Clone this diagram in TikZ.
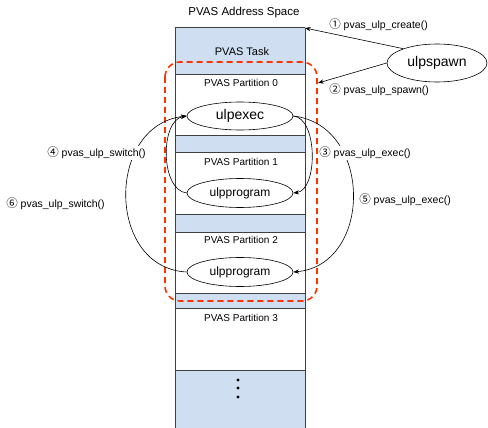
\documentclass[tikz,border=0pt]{standalone}
\usepackage{fontspec}
\setmainfont{Liberation Sans}
\newfontfamily\cjk{Noto Sans CJK JP}
\usetikzlibrary{shapes.geometric,arrows.meta}
\definecolor{bandblue}{RGB}{207,222,240}
\definecolor{dashred}{RGB}{255,51,0}
\definecolor{edgegray}{RGB}{64,64,64}
\tikzset{
  proc/.style={draw,ellipse,inner sep=0pt,minimum width=106pt,minimum height=29pt},
  call/.style={anchor=west,fill=white,inner sep=1pt,font=\fontsize{10.5}{12}\selectfont},
  ptitle/.style={font=\fontsize{10}{12}\selectfont},
}
\newcommand{\circnum}[1]{{\cjk\fontsize{11.5}{12}\selectfont #1}}
\begin{document}
\begin{tikzpicture}[>=Stealth,x=1pt,y=-1pt,font=\fontsize{10}{12}\selectfont,line width=0.6pt]
            \useasboundingbox (0,0) rectangle (488,428);
            % address space column
            \foreach \a/\b in {28/75,136/153,214/232,293/308,370/428} {\fill[bandblue] (175,\a) rectangle (305,\b);}
            \foreach \y in {28,75,136,153,214,232,293,308,370} {\draw[edgegray,line width=1pt] (175,\y) -- (305,\y);}
            \draw[edgegray,line width=1pt] (175,28) -- (175,428) (305,28) -- (305,428);
            \foreach \y in {380,388,397} {\fill (238,\y) circle (1.6);}
            \node[font=\fontsize{11.5}{13}\selectfont] (title) at (244,13) {PVAS Address Space};
            \node[font=\fontsize{11}{13}\selectfont] (task) at (242,52) {PVAS Task};
            \node[ptitle] (part0) at (241,83) {PVAS Partition 0};
            \node[ptitle] (part1) at (241,162) {PVAS Partition 1};
            \node[ptitle] (part2) at (241,240) {PVAS Partition 2};
            \node[ptitle] (part3) at (241,318) {PVAS Partition 3};
            % processes
            \node[proc,minimum height=28pt,font=\fontsize{14}{16}\selectfont] (exec) at (240,116) {ulpexec};
            \node[proc,font=\fontsize{12}{14}\selectfont] (progA) at (240,193) {ulpprogram};
            \node[proc,font=\fontsize{12}{14}\selectfont] (progB) at (240,272) {ulpprogram};
            \node[proc,minimum width=100pt,minimum height=38pt,font=\fontsize{14}{16}\selectfont] (spawn) at (437,63) {ulpspawn};
            \draw[dashred,line width=1.6pt,dash pattern=on 6pt off 4pt,rounded corners=15pt] (165,62) rectangle (317,301);
            % calls
            \coordinate (taskcorner) at (305,28);
            \coordinate (spawnin) at (318,83);
            \draw[->] (spawn.157) -- (taskcorner);
            \draw[->] (spawn.west) -- (spawnin);
            \draw[->] (exec.east) .. controls (318,118) and (318,190) .. (progA.east);
            \draw[->] (exec.east) .. controls (373,125) and (373,265) .. (progB.east);
            \draw[->] (progA.west) .. controls (160,190) and (160,120) .. (exec.west);
            \draw[->] (progB.west) .. controls (106,268) and (106,125) .. (exec.west);
            \node[call] (lcreate) at (328,25) {\circnum{①} pvas\_ulp\_create()};
            \node[call] (lspawn) at (328,90) {\circnum{②} pvas\_ulp\_spawn()};
            \node[call] (lexecA) at (318,153) {\circnum{③} pvas\_ulp\_exec()};
            \node[call] (lexecB) at (358,200) {\circnum{⑤} pvas\_ulp\_exec()};
            \node[call] (lswitchA) at (46,153) {\circnum{④} pvas\_ulp\_switch()};
            \node[call] (lswitchB) at (5,204) {\circnum{⑥} pvas\_ulp\_switch()};
        \end{tikzpicture}
\end{document}
